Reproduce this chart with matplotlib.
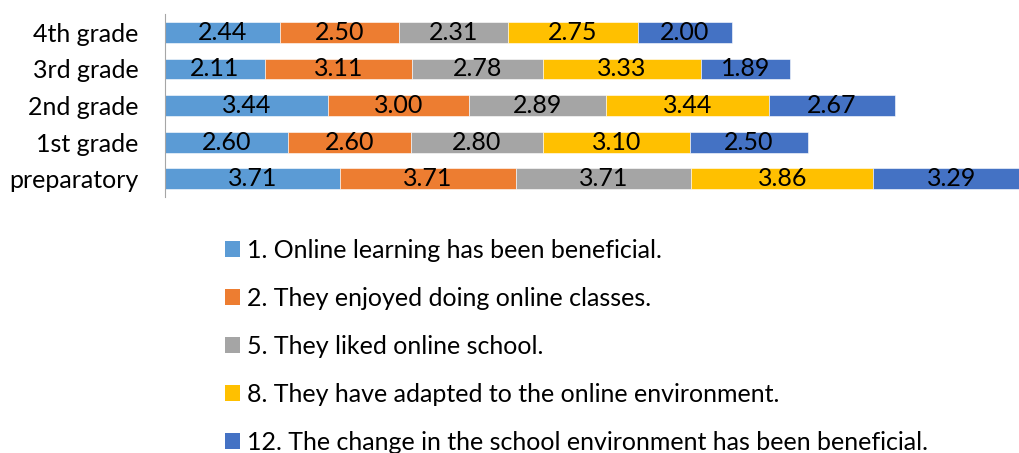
import matplotlib.pyplot as plt
from matplotlib.patches import Patch
import numpy as np

plt.rcParams['font.family'] = ['Lato', 'DejaVu Sans']

# Daten
grades = ['preparatory', '1st grade', '2nd grade', '3rd grade', '4th grade']
q1 = [3.71, 2.60, 3.44, 2.11, 2.44]
q2 = [3.71, 2.60, 3.00, 3.11, 2.50]
q5 = [3.71, 2.80, 2.89, 2.78, 2.31]
q8 = [3.86, 3.10, 3.44, 3.33, 2.75]
q12 = [3.29, 2.50, 2.67, 1.89, 2.00]
labels = ['1. Online learning has been beneficial.',
          '2. They enjoyed doing online classes.',
          '5. They liked online school.',
          '8. They have adapted to the online environment.',
          '12. The change in the school environment has been beneficial.']
colors = ['#5B9BD5', '#ED7D31', '#A5A5A5', '#FFC000', '#4472C4']

fig = plt.figure(figsize=(10.2, 4.53), dpi=100)
ax = fig.add_axes([0.1618, 0.565, 0.8382, 0.404])

y = np.arange(len(grades))
left = np.zeros(len(grades))
for vals, col in zip([q1, q2, q5, q8, q12], colors):
    vals = np.array(vals)
    bars = ax.barh(y, vals, left=left, height=0.57, color=col,
                   edgecolor='white', linewidth=0.4)
    for b, v in zip(bars, vals):
        ax.text(b.get_x() + b.get_width() / 2, b.get_y() + b.get_height() / 2,
                f'{v:.2f}', ha='center', va='center', fontsize=18,
                color='black', clip_on=True)
    left += vals

ax.set_xlim(0, 18.09)
ax.set_ylim(-0.5, 4.5)
ax.set_yticks(y)
ax.set_yticklabels(grades, fontsize=18)
ax.tick_params(axis='y', length=0, pad=19)
ax.set_xticks([])
for s in ['top', 'right', 'bottom']:
    ax.spines[s].set_visible(False)
ax.spines['left'].set_color('#A6A6A6')

# Legende unten
handles = [Patch(facecolor=c, edgecolor='none') for c in colors]
fig.legend(handles, labels, loc='upper left', bbox_to_anchor=(0.208, 0.50),
           frameon=False, fontsize=18, handlelength=0.6, handleheight=0.6,
           handletextpad=0.3, labelspacing=1.0, borderpad=0)

fig.savefig('out.png', dpi=100)
